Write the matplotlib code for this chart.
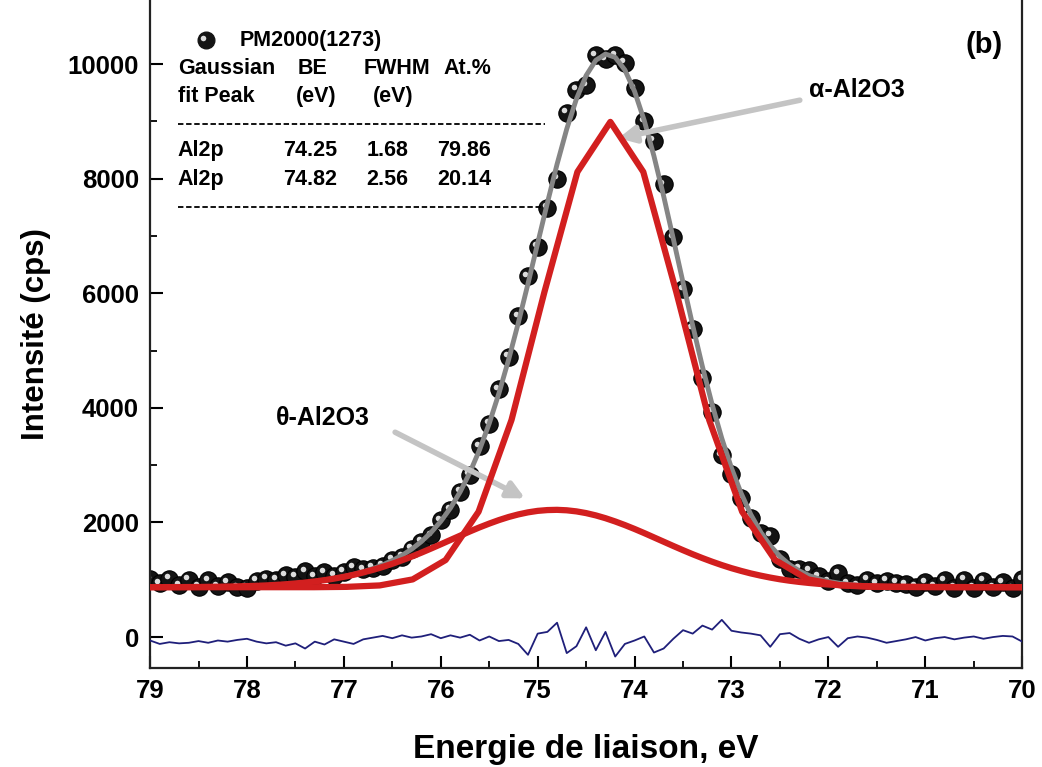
import numpy as np
import matplotlib.pyplot as plt
from matplotlib.transforms import offset_copy

plt.rcParams['font.family'] = ['Liberation Sans', 'DejaVu Sans']
plt.rcParams['font.weight'] = 'bold'

# Energie de liaison (eV), pas de 0.1 eV de 79 a 70
energy = np.linspace(79.0, 70.0, 91)

# points mesures PM2000(1273)
counts = [1010, 940, 1020, 900, 1000, 880, 990, 890, 960, 870,
          860, 980, 1020, 1000, 1080, 1050, 1150, 1060, 1130, 1070,
          1140, 1220, 1180, 1210, 1240, 1350, 1400, 1540, 1660, 1780,
          2040, 2220, 2540, 2830, 3330, 3720, 4320, 4890, 5600, 6300,
          6810, 7490, 8000, 9150, 9550, 9630, 10150, 10080, 10150, 10020,
          9580, 9000, 8660, 7900, 6980, 6070, 5380, 4520, 3930, 3170,
          2840, 2430, 2080, 1810, 1770, 1360, 1190, 1190, 1170, 1060,
          970, 1110, 940, 900, 1000, 940, 980, 950, 920, 880,
          960, 890, 990, 860, 1000, 860, 980, 870, 960, 850, 1010]

# enveloppe (somme des deux gaussiennes + fond)
fit_total = [871, 871, 872, 872, 873, 874, 876, 878, 881, 884,
             889, 894, 901, 910, 921, 935, 951, 971, 994, 1023,
             1055, 1094, 1141, 1195, 1259, 1335, 1426, 1534, 1666, 1825,
             2019, 2252, 2533, 2870, 3267, 3727, 4253, 4840, 5482, 6166,
             6872, 7575, 8251, 8866, 9391, 9799, 10065, 10174, 10117, 9896,
             9522, 9012, 8393, 7695, 6948, 6186, 5435, 4720, 4060, 3468,
             2949, 2507, 2137, 1836, 1596, 1408, 1263, 1155, 1074, 1015,
             973, 943, 920, 906, 895, 888, 883, 879, 876, 874,
             873, 872, 872, 871, 871, 871, 871, 870, 870, 870, 870]

# composante theta-Al2O3 (74.82 eV)
theta_peak = [871, 871, 872, 872, 873, 874, 876, 878, 881, 884,
              889, 894, 901, 910, 921, 935, 951, 970, 993, 1020,
              1051, 1086, 1127, 1173, 1223, 1279, 1340, 1404, 1473, 1545,
              1619, 1694, 1769, 1843, 1914, 1980, 2041, 2095, 2140, 2176,
              2202, 2216, 2220, 2212, 2193, 2163, 2123, 2074, 2017, 1954,
              1886, 1814, 1739, 1664, 1589, 1516, 1445, 1378, 1315, 1256,
              1202, 1154, 1110, 1072, 1038, 1008, 983, 962, 944, 929,
              917, 907, 898, 892, 887, 883, 880, 877, 875, 874,
              873, 872, 872, 871, 871, 871, 871, 870, 870, 870, 870]

# composante alpha-Al2O3 (74.25 eV), points plus espaces
alpha_x = [79.0, 77.31, 76.97, 76.63, 76.29, 75.95, 75.61, 75.27, 74.93, 74.59,
           74.25, 73.91, 73.57, 73.23, 72.89, 72.55, 72.21, 71.87, 71.53, 70.0]
alpha_y = [870, 870, 876, 901, 1006, 1344, 2187, 3788, 6023, 8117,
           8990, 8117, 6023, 3788, 2187, 1344, 1006, 901, 876, 870]

# residu
residual = [-60, -120, -90, -110, -100, -70, -100, -60, -80, -50,
            -30, -80, -110, -90, -150, -110, -200, -80, -130, -40,
            -80, -120, -40, -10, 20, -20, 30, -10, 10, 50,
            -20, 30, -10, 40, -60, 10, -70, -50, -120, -310,
            60, 90, 250, -280, -160, 170, -230, 90, -340, -120,
            -60, 10, -270, -200, -30, 120, 60, 200, 130, 300,
            110, 80, 60, 30, -170, 50, 70, -30, -100, -40,
            0, -170, -20, 10, -10, -50, -100, -70, -40, 0,
            -60, -20, 0, -40, -10, 10, -30, 0, 20, 10, -80]

table_rows = [['Gaussian', 'BE', 'FWHM', 'At.%'],
              ['fit Peak', '(eV)', '(eV)', ''],
              ['Al2p', '74.25', '1.68', '79.86'],
              ['Al2p', '74.82', '2.56', '20.14']]

fig = plt.figure(figsize=(10.42, 7.67), dpi=100)
ax = fig.add_axes([0.144, 0.129, 0.837, 0.871])

red = '#d21f1f'
# points en "spheres"
ax.plot(energy, counts, 'o', color='#141414', ms=12.5, mec='#000000', mew=0.8, zorder=2)
hl = offset_copy(ax.transData, fig=fig, x=-2.5, y=2.5, units='dots')
ax.plot(energy, counts, 'o', color='#dcdcdc', ms=4, mew=0, transform=hl, zorder=2.1)

ax.plot(energy, fit_total, color='#858585', lw=3.5, zorder=3)
ax.plot(alpha_x, alpha_y, color=red, lw=4.5, zorder=4)
ax.plot(energy, theta_peak, color=red, lw=4.5, zorder=4)
ax.plot(energy, residual, color='#1f1f7a', lw=1.3, zorder=3)

ax.set_xlim(79, 70)
ax.set_ylim(-541, 11117)
ax.set_xticks(np.arange(79, 69, -1))
ax.set_xticks(np.arange(78.5, 70, -1), minor=True)
ax.set_yticks(np.arange(0, 10001, 2000))
ax.set_yticks(np.arange(1000, 10000, 2000), minor=True)
ax.tick_params(which='major', direction='in', length=9, width=1.5, labelsize=18.5, pad=8)
ax.tick_params(which='minor', direction='in', length=5, width=1.3)
for s in ax.spines.values():
    s.set_linewidth(1.6)
    s.set_color('#222222')
ax.spines['top'].set_visible(False)

ax.set_xlabel('Energie de liaison, eV', fontsize=24, fontweight='bold', labelpad=22)
ax.set_ylabel('Intensité (cps)', fontsize=22.5, fontweight='bold', labelpad=12)

# legende et tableau
ax.plot([0.064], [0.940], 'o', color='#141414', ms=12, transform=ax.transAxes)
hl2 = offset_copy(ax.transAxes, fig=fig, x=-2.5, y=2.5, units='dots')
ax.plot([0.064], [0.940], 'o', color='#dcdcdc', ms=4, mew=0, transform=hl2)
ax.text(0.103, 0.940, 'PM2000(1273)', transform=ax.transAxes, fontsize=15.5, va='center')

row_y = [0.898, 0.855, 0.775, 0.731]
col_x_rows = [[0.032, 0.169, 0.245, 0.336],
              [0.032, 0.167, 0.255, 0.336],
              [0.032, 0.153, 0.248, 0.329],
              [0.032, 0.153, 0.248, 0.329]]
for row, yy, xs in zip(table_rows, row_y, col_x_rows):
    for cell, xx in zip(row, xs):
        ax.text(xx, yy, cell, transform=ax.transAxes, fontsize=15.5, va='center')
for yy in [0.814, 0.690]:
    ax.plot([0.032, 0.453], [yy, yy], color='black', lw=1.3, ls=(0, (3, 1.5)),
            transform=ax.transAxes)

ax.text(0.978, 0.933, '(b)', transform=ax.transAxes, fontsize=21, ha='right', va='center')

arrow = dict(arrowstyle='-|>', color='#c4c4c4', lw=4, mutation_scale=25, shrinkA=0, shrinkB=0)
ax.annotate('', xy=(0.537, 0.793), xytext=(0.745, 0.850), xycoords='axes fraction',
            arrowprops=arrow)
ax.text(0.755, 0.865, 'α-Al2O3', transform=ax.transAxes, fontsize=18, va='center')
ax.annotate('', xy=(0.430, 0.254), xytext=(0.281, 0.353), xycoords='axes fraction',
            arrowprops=arrow)
ax.text(0.144, 0.374, 'θ-Al2O3', transform=ax.transAxes, fontsize=18, va='center')

fig.savefig('out.png', dpi=100)
